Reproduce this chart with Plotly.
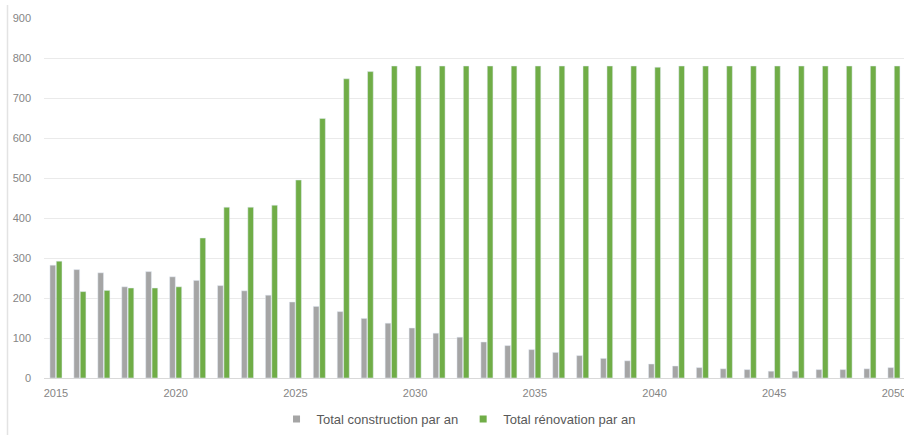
import plotly.graph_objects as go

years = list(range(2015, 2051))
construction = [282, 271, 263, 228, 266, 253, 244, 231, 218, 207,
                190, 179, 166, 149, 137, 125, 112, 102, 90, 81,
                71, 64, 56, 49, 43, 35, 30, 26, 23, 21,
                17, 17, 21, 21, 23, 26]
renovation = [292, 216, 219, 225, 225, 228, 350, 427, 427, 432,
              495, 649, 748, 766, 780, 780, 780, 780, 780, 780,
              780, 780, 780, 780, 780, 777, 780, 780, 780, 780,
              780, 780, 780, 780, 780, 780]
name_c = "Total construction par an"
name_r = "Total rénovation par an"
gray = "#A5A5A5"
green = "#70AD47"
xticks = [2015, 2020, 2025, 2030, 2035, 2040, 2045, 2050]
yticks = [0, 100, 200, 300, 400, 500, 600, 700, 800, 900]

ML, MT, MB = 44, 18, 57
W, H = 904, 435
PW, PH = W - ML, H - MT - MB

fig = go.Figure()
fig.add_trace(go.Bar(x=years, y=construction, name=name_c, marker_color=gray,
                     showlegend=False))
fig.add_trace(go.Bar(x=years, y=renovation, name=name_r, marker_color=green,
                     showlegend=False))
# legend markers (small squares)
fig.add_trace(go.Scatter(x=[None], y=[None], mode="markers", name=name_c,
                         marker=dict(symbol="square", size=7, color=gray)))
fig.add_trace(go.Scatter(x=[None], y=[None], mode="markers", name=name_r,
                         marker=dict(symbol="square", size=7, color=green)))

fig.update_layout(
    width=W, height=H,
    margin=dict(l=ML, r=0, t=MT, b=MB, autoexpand=False),
    paper_bgcolor="white", plot_bgcolor="white",
    barmode="group", bargap=0.47, bargroupgap=0.1,
    font=dict(family="Liberation Sans, Arial, sans-serif", size=11, color="#858585"),
    legend=dict(orientation="h", x=0.482, xanchor="center", y=-(419 - 378) / PH,
                yanchor="middle",
                font=dict(size=13, color="#595959"), itemwidth=30,
                tracegroupgap=0, bgcolor="rgba(0,0,0,0)"),
    xaxis=dict(range=[2014.5, 2050.42], tickvals=xticks, ticktext=[str(v) for v in xticks],
               showgrid=False, showline=True, linecolor="#D9D9D9", linewidth=1,
               ticks="", ticklabelstandoff=5, zeroline=False, ticklabeloverflow="allow",
               tickfont=dict(size=11, color="#858585")),
    yaxis=dict(range=[0, 900], tickvals=yticks, showgrid=True, gridcolor="#EAEAEA",
               gridwidth=1, zeroline=False, showline=False, ticks="",
               ticklabelstandoff=12, tickfont=dict(size=11, color="#858585")),
    shapes=[dict(type="line", xref="paper", yref="paper",
                 x0=-(ML - 7.5) / PW, x1=-(ML - 7.5) / PW,
                 y0=-MB / PH, y1=1 + (MT - 5) / PH,
                 line=dict(color="#E3E3E3", width=1.5))],
)

fig.write_html(
    "out.html",
    config={"displayModeBar": False},
    post_script="document.body.style.margin='0';document.body.style.overflow='hidden';",
)
